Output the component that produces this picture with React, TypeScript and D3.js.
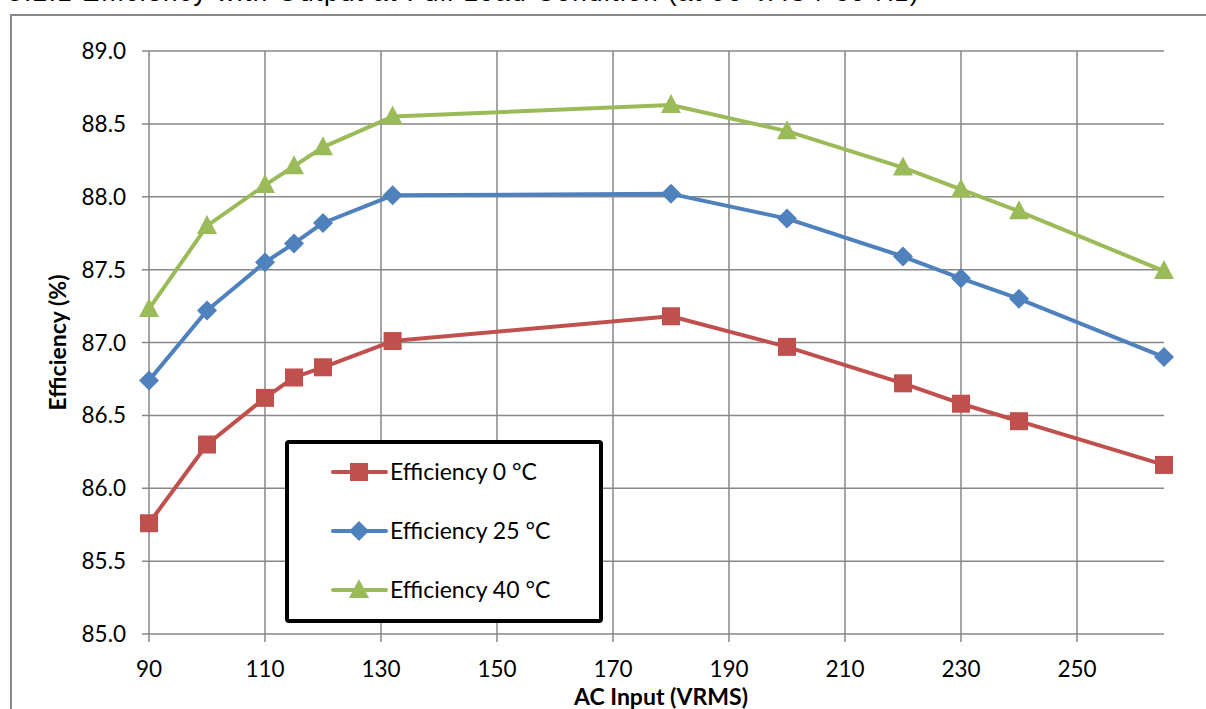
import React from "react";
import * as d3 from "d3";

const voltages = [90, 100, 110, 115, 120, 132, 180, 200, 220, 230, 240, 265];
const eff0 = [85.76, 86.3, 86.62, 86.76, 86.83, 87.01, 87.18, 86.97, 86.72, 86.58, 86.46, 86.16];
const eff25 = [86.74, 87.22, 87.55, 87.68, 87.82, 88.01, 88.02, 87.85, 87.59, 87.44, 87.3, 86.9];
const eff40 = [87.23, 87.8, 88.08, 88.21, 88.34, 88.55, 88.63, 88.45, 88.2, 88.05, 87.9, 87.49];
const xTicks = [90, 110, 130, 150, 170, 190, 210, 230, 250];
const yTicks = [85.0, 85.5, 86.0, 86.5, 87.0, 87.5, 88.0, 88.5, 89.0];
const seriesNames = ["Efficiency 0 °C", "Efficiency 25 °C", "Efficiency 40 °C"];
const seriesColors = ["#C0504D", "#4F81BD", "#9BBB59"];
const markerTypes = ["square", "diamond", "triangle"];

const W = 1206;
const H = 709;
const left = 149;
const right = 1164;
const top = 51;
const bottom = 634;
const FONT = "Lato, 'Open Sans', sans-serif";
const GRID = "#878787";

function Marker({ type, x, y, color }: { type: string; x: number; y: number; color: string }) {
  if (type === "square") {
    return <rect x={x - 9} y={y - 9} width={18} height={18} fill={color} />;
  }
  if (type === "diamond") {
    return <path d={`M${x},${y - 10}L${x + 10},${y}L${x},${y + 10}L${x - 10},${y}Z`} fill={color} />;
  }
  return <path d={`M${x},${y - 11}L${x + 10},${y + 8}L${x - 10},${y + 8}Z`} fill={color} />;
}

export default function App() {
  const x = d3.scaleLinear().domain([90, 265]).range([left, right]);
  const y = d3.scaleLinear().domain([85, 89]).range([bottom, top]);
  const series = [eff0, eff25, eff40];
  const line = d3
    .line<[number, number]>()
    .x((d) => x(d[0]))
    .y((d) => y(d[1]));

  const legX = 287;
  const legY = 442;
  const legW = 314;
  const legH = 179;
  const legRows = [472, 531, 590];

  return (
    <svg
      width={W}
      height={H}
      style={{ position: "absolute", left: 0, top: 0, background: "#fff" }}
      fontFamily={FONT}
    >
      <rect x={0} y={0} width={W} height={H} fill="#fff" />
      <text x={8} y={1} fontSize={26} fill="#000" letterSpacing={1.5} fontFamily="'Liberation Sans', sans-serif">
        5.2.1      Efficiency with Output at Full Load Condition (at 90 VAC / 60 Hz)
      </text>
      <path d={`M11,${H + 2}V15H${W + 2}`} fill="none" stroke="#888" strokeWidth={2} />

      {/* gridlines */}
      {yTicks.map((t) => (
        <line key={"gy" + t} x1={left - 7} x2={right} y1={y(t)} y2={y(t)} stroke={GRID} strokeWidth={1.5} />
      ))}
      {xTicks.map((t) => (
        <line key={"gx" + t} x1={x(t)} x2={x(t)} y1={top} y2={bottom + 8} stroke={GRID} strokeWidth={1.5} />
      ))}

      {/* tick labels */}
      {yTicks.map((t) => (
        <text key={"ly" + t} x={126} y={y(t) + 8} fontSize={22.5} textAnchor="end" fill="#000">
          {t.toFixed(1)}
        </text>
      ))}
      {xTicks.map((t) => (
        <text key={"lx" + t} x={x(t)} y={677} fontSize={22.5} textAnchor="middle" fill="#000">
          {t}
        </text>
      ))}

      <text x={661} y={705} fontSize={23} fontWeight="bold" textAnchor="middle" fill="#000">
        AC Input (VRMS)
      </text>
      <text
        transform={`translate(66,${(top + bottom) / 2}) rotate(-90)`}
        fontSize={23}
        fontWeight="bold"
        textAnchor="middle"
        fill="#000"
      >
        Efficiency (%)
      </text>

      {/* series */}
      {series.map((vals, i) => {
        const pts = voltages.map((v, j) => [v, vals[j]] as [number, number]);
        return (
          <g key={"s" + i}>
            <path d={line(pts) || ""} fill="none" stroke={seriesColors[i]} strokeWidth={4} strokeLinejoin="round" />
            {pts.map((p, j) => (
              <Marker key={j} type={markerTypes[i]} x={x(p[0])} y={y(p[1])} color={seriesColors[i]} />
            ))}
          </g>
        );
      })}

      {/* legend */}
      <rect x={legX} y={legY} width={legW} height={legH} fill="#fff" stroke="#000" strokeWidth={4} rx={2} />
      {seriesNames.map((name, i) => (
        <g key={"leg" + i}>
          <line x1={333} x2={386} y1={legRows[i]} y2={legRows[i]} stroke={seriesColors[i]} strokeWidth={4} strokeLinecap="round" />
          <Marker type={markerTypes[i]} x={359} y={legRows[i]} color={seriesColors[i]} />
          <text x={390} y={legRows[i] + 8} fontSize={23} fill="#000">
            {name}
          </text>
        </g>
      ))}
    </svg>
  );
}
